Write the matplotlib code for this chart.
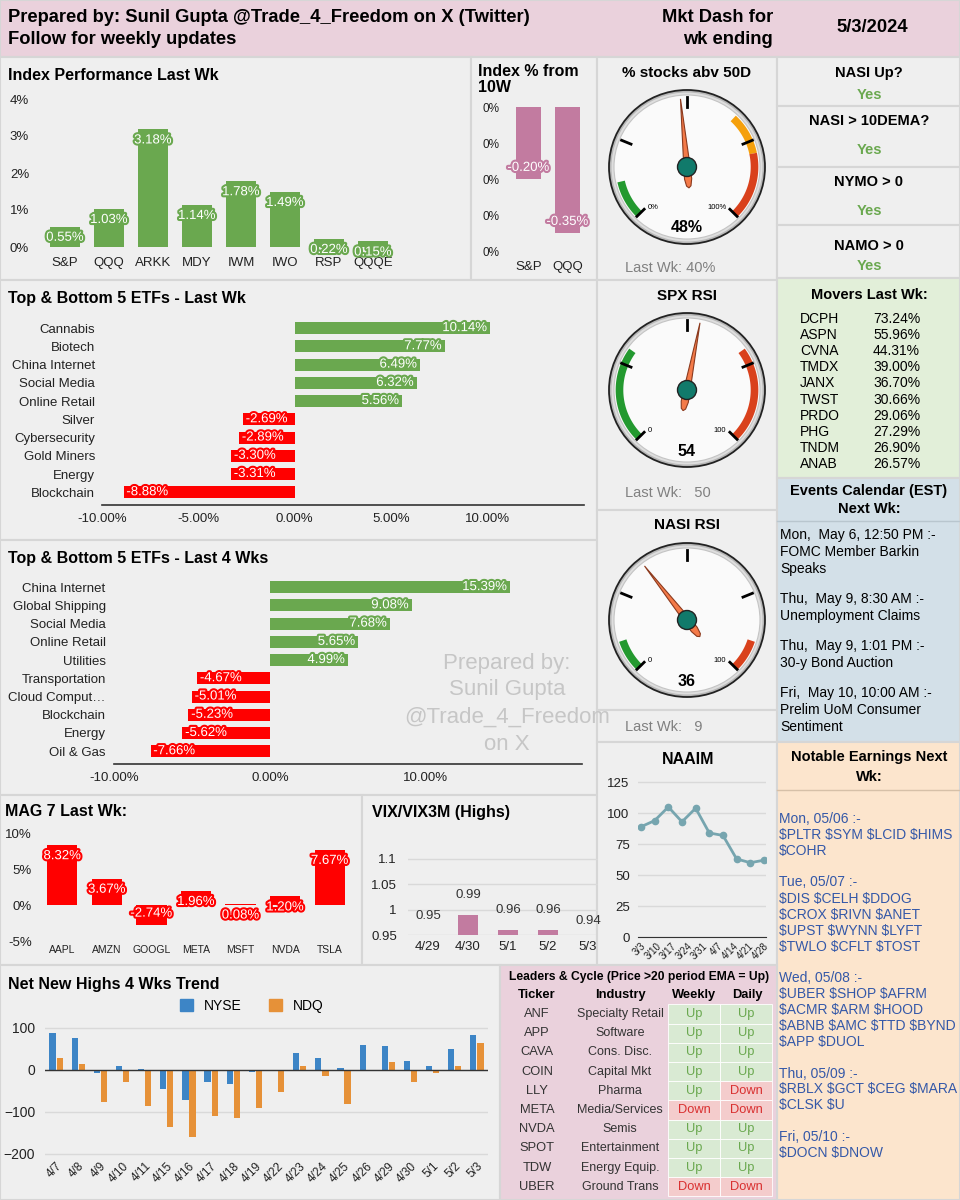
import numpy as np
import matplotlib
matplotlib.use("Agg")
import matplotlib.pyplot as plt
from matplotlib.patches import Rectangle, Ellipse, Polygon, Patch
import matplotlib.patheffects as pe
from matplotlib.ticker import FuncFormatter

plt.rcParams['font.family'] = ['Liberation Sans', 'DejaVu Sans']

# ---------------- data ----------------
report_date = "5/3/2024"

idx_names = ["S&P", "QQQ", "ARKK", "MDY", "IWM", "IWO", "RSP", "QQQE"]
idx_perf = [0.55, 1.03, 3.18, 1.14, 1.78, 1.49, 0.22, 0.15]

idx10_names = ["S&P", "QQQ"]
idx10_vals = [-0.20, -0.35]

etf_wk_names = ["Cannabis", "Biotech", "China Internet", "Social Media", "Online Retail",
                "Silver", "Cybersecurity", "Gold Miners", "Energy", "Blockchain"]
etf_wk_vals = [10.14, 7.77, 6.49, 6.32, 5.56, -2.69, -2.89, -3.30, -3.31, -8.88]

etf_4w_names = ["China Internet", "Global Shipping", "Social Media", "Online Retail", "Utilities",
                "Transportation", "Cloud Comput\u2026", "Blockchain", "Energy", "Oil & Gas"]
etf_4w_vals = [15.39, 9.08, 7.68, 5.65, 4.99, -4.67, -5.01, -5.23, -5.62, -7.66]

mag7_names = ["AAPL", "AMZN", "GOOGL", "META", "MSFT", "NVDA", "TSLA"]
mag7_vals = [8.32, 3.67, -2.74, 1.96, 0.08, 1.20, 7.67]

vix_dates = ["4/29", "4/30", "5/1", "5/2", "5/3"]
vix_vals = [0.95, 0.99, 0.96, 0.96, 0.94]

# the chart shows 10 weekly points but only 9 date labels
naaim_dates = ["3/3", "3/10", "3/17", "3/24", "3/31", "4/7", "4/14", "4/21", "4/28"]
naaim_vals = [89, 94, 105, 93, 104, 84, 82, 63, 60, 62]

nnh_dates = ["4/7", "4/8", "4/9", "4/10", "4/11", "4/15", "4/16", "4/17", "4/18", "4/19",
             "4/22", "4/23", "4/24", "4/25", "4/26", "4/29", "4/30", "5/1", "5/2", "5/3"]
nnh_nyse = [87, 76, -8, 10, 2, -45, -71, -29, -33, -5, 0, 40, 29, 5, 60, 57, 22, 10, 51, 84]
nnh_ndq = [29, 14, -77, -28, -86, -135, -159, -110, -115, -90, -52, 10, -15, -81, -3, 18, -28, -7, 10, 65]

gauge_titles = ["% stocks abv 50D", "SPX RSI", "NASI RSI"]
gauge_vals = [48, 54, 36]
gauge_last = ["Last Wk: 40%", "Last Wk:   50", "Last Wk:   9"]
gauge_units = ["%", "", ""]
gauge_bands = [[(0, 12, "#23992f"), (66, 79, "#f5a00c"), (79, 100, "#d9411c")],
               [(0, 30, "#23992f"), (70, 100, "#d9411c")],
               [(0, 10, "#23992f"), (90, 100, "#d9411c")]]

signal_q = ["NASI Up?", "NASI > 10DEMA?", "NYMO > 0", "NAMO > 0"]
signal_a = ["Yes", "Yes", "Yes", "Yes"]

movers_tickers = ["DCPH", "ASPN", "CVNA", "TMDX", "JANX", "TWST", "PRDO", "PHG", "TNDM", "ANAB"]
movers_pct = ["73.24%", "55.96%", "44.31%", "39.00%", "36.70%", "30.66%", "29.06%", "27.29%", "26.90%", "26.57%"]

events = [["Mon,  May 6, 12:50 PM :-", "FOMC Member Barkin", "Speaks"],
          ["Thu,  May 9, 8:30 AM :-", "Unemployment Claims"],
          ["Thu,  May 9, 1:01 PM :-", "30-y Bond Auction"],
          ["Fri,  May 10, 10:00 AM :-", "Prelim UoM Consumer", "Sentiment"]]

earnings = [["Mon, 05/06 :-", "$PLTR $SYM $LCID $HIMS", "$COHR"],
            ["Tue, 05/07 :-", "$DIS $CELH $DDOG", "$CROX $RIVN $ANET", "$UPST $WYNN $LYFT", "$TWLO $CFLT $TOST"],
            ["Wed, 05/08 :-", "$UBER $SHOP $AFRM", "$ACMR $ARM $HOOD", "$ABNB $AMC $TTD $BYND", "$APP $DUOL"],
            ["Thu, 05/09 :-", "$RBLX $GCT $CEG $MARA", "$CLSK $U"],
            ["Fri, 05/10 :-", "$DOCN $DNOW"]]

lead_tickers = ["ANF", "APP", "CAVA", "COIN", "LLY", "META", "NVDA", "SPOT", "TDW", "UBER"]
lead_industry = ["Specialty Retail", "Software", "Cons. Disc.", "Capital Mkt", "Pharma",
                 "Media/Services", "Semis", "Entertainment", "Energy Equip.", "Ground Trans"]
lead_weekly = ["Up", "Up", "Up", "Up", "Up", "Down", "Up", "Up", "Up", "Down"]
lead_daily = ["Up", "Up", "Up", "Up", "Down", "Down", "Up", "Up", "Up", "Down"]

# ---------------- style ----------------
GRAY = "#efefef"
LINE = "#d6d6d6"
PINK = "#ead1dc"
GREEN = "#6aa84f"
RED = "#ff0000"
MAUVE = "#c27ba0"
W, H = 960, 1200

fig = plt.figure(figsize=(W / 100, H / 100), dpi=100, facecolor="#e4e4e4")
bg = fig.add_axes([0, 0, 1, 1])
bg.set_xlim(0, W)
bg.set_ylim(H, 0)
bg.axis("off")


def panel(x0, y0, x1, y1, fc=GRAY):
    bg.add_patch(Rectangle((x0, y0), x1 - x0, y1 - y0, facecolor=fc, edgecolor=LINE, lw=1.5, zorder=0))


def txt(x, y, s, size=10, weight="normal", color="black", ha="left", **kw):
    bg.text(x, y, s, fontsize=size, fontweight=weight, color=color, ha=ha, va="center",
            parse_math=False, **kw)


def axes_px(x0, y0, x1, y1):
    ax = fig.add_axes([x0 / W, 1 - y1 / H, (x1 - x0) / W, (y1 - y0) / H])
    ax.patch.set_alpha(0)
    for s in ax.spines.values():
        s.set_visible(False)
    ax.tick_params(length=0, labelsize=9.5, colors="#222")
    return ax


def bar_labels(ax, pos, vals, colors, horizontal=False):
    for p, v, col in zip(pos, vals, colors):
        stroke = [pe.withStroke(linewidth=3, foreground=col)]
        if horizontal:
            off, ha = ((-2, 0), "right") if v >= 0 else ((2, 0), "left")
            ax.annotate(f"{v:.2f}%", (v, p), xytext=off, textcoords="offset points", ha=ha, va="center",
                        color="white", fontsize=9.5, path_effects=stroke, annotation_clip=False)
        else:
            off = (0, -8) if v >= 0 else (0, 8)
            ax.annotate(f"{v:.2f}%", (p, v), xytext=off, textcoords="offset points", ha="center", va="center",
                        color="white", fontsize=9.5, path_effects=stroke, annotation_clip=False)


# ---------------- panels ----------------
panel(0, 0, 960, 57, PINK)
panel(0, 57, 471, 280)
panel(471, 57, 597, 280)
panel(597, 57, 777, 280)
for y0, y1 in [(57, 106), (106, 167), (167, 225), (225, 278)]:
    panel(777, y0, 960, y1)
panel(0, 280, 597, 540)
panel(597, 280, 777, 510)
panel(777, 278, 960, 478, "#e2efd9")
panel(0, 540, 597, 795)
panel(597, 510, 777, 710)
panel(597, 710, 777, 742)
panel(777, 478, 960, 742, "#d3e0e8")
bg.plot([777, 960], [521, 521], color="#b9c6ce", lw=1)
panel(0, 795, 362, 965)
panel(362, 795, 597, 965)
panel(597, 742, 777, 965)
panel(777, 742, 960, 1200, "#fce5cd")
bg.plot([777, 960], [790, 790], color="#d6c0a8", lw=1)
panel(0, 965, 500, 1200)
panel(500, 965, 777, 1200, PINK)

# header
hdr_font = ["Liberation Sans Narrow", "Liberation Sans", "DejaVu Sans"]
for x, y, s, ha in [(8, 18, "Prepared by: Sunil Gupta @Trade_4_Freedom on X (Twitter)", "left"),
                    (8, 39, "Follow for weekly updates", "left"),
                    (773, 18, "Mkt Dash for", "right"),
                    (773, 39, "wk ending", "right"),
                    (872, 28, report_date, "center")]:
    bg.text(x, y, s, fontsize=13.2, fontweight="bold", family=hdr_font, va="center", ha=ha)

# titles
TS = 11.5
txt(8, 75, "Index Performance Last Wk", TS, "bold")
txt(478, 71, "Index % from", TS, "bold")
txt(478, 88, "10W", TS, "bold")
txt(8, 299, "Top & Bottom 5 ETFs - Last Wk", TS, "bold")
txt(8, 558, "Top & Bottom 5 ETFs - Last 4 Wks", TS, "bold")
txt(5, 812, "MAG 7 Last Wk:", TS, "bold")
txt(372, 812, "VIX/VIX3M (Highs)", TS, "bold")
txt(688, 760, "NAAIM", TS, "bold", ha="center")
txt(8, 984, "Net New Highs 4 Wks Trend", TS, "bold")

# watermark
for k, line in enumerate(["Prepared by:", "Sunil Gupta", "@Trade_4_Freedom", "on X"]):
    txt(507, 663 + 27 * k, line, 16, color="#c6c6c6", ha="center")

# ---------------- Index performance ----------------
ax = axes_px(43, 99, 395, 247)
x = np.arange(len(idx_names))
ax.bar(x, idx_perf, width=0.66, color=GREEN)
ax.set_xlim(-0.5, len(idx_names) - 0.5)
ax.set_ylim(0, 4)
ax.set_yticks(range(5))
ax.yaxis.set_major_formatter(FuncFormatter(lambda v, p: f"{v:.0f}%"))
ax.set_xticks(x, idx_names)
ax.tick_params(axis="x", pad=7)
ax.tick_params(axis="y", pad=10)
bar_labels(ax, x, idx_perf, [GREEN] * len(x))

# ---------------- Index % from 10W ----------------
ax = axes_px(509, 107, 587, 251)
x = np.arange(len(idx10_names))
ax.bar(x, idx10_vals, width=0.62, color=MAUVE)
ax.set_xlim(-0.5, len(idx10_names) - 0.5)
ax.set_ylim(-0.4, 0)
ax.set_yticks(np.linspace(-0.4, 0, 5))
ax.yaxis.set_major_formatter(FuncFormatter(lambda v, p: f"{abs(round(v)):.0f}%"))
ax.set_xticks(x, idx10_names)
ax.tick_params(axis="y", pad=7, labelsize=8.5)
ax.tick_params(axis="x", pad=7)
bar_labels(ax, x, idx10_vals, [MAUVE] * len(x))


# ---------------- ETF bars ----------------
def etf_chart(box, names, vals, xlim, xticks, ypad):
    ax = axes_px(*box)
    y = np.arange(len(names))
    cols = [GREEN if v >= 0 else RED for v in vals]
    ax.barh(y, vals, height=0.66, color=cols)
    ax.set_ylim(len(names) - 0.3, -0.5)
    ax.set_xlim(*xlim)
    ax.set_xticks(xticks)
    ax.xaxis.set_major_formatter(FuncFormatter(lambda v, p: f"{v:.2f}%"))
    ax.set_yticks(y, names)
    ax.spines["bottom"].set_visible(True)
    ax.spines["bottom"].set_color("#333")
    ax.spines["bottom"].set_linewidth(1.2)
    ax.tick_params(axis="y", pad=ypad)
    ax.tick_params(axis="x", pad=6)
    bar_labels(ax, y, vals, cols, horizontal=True)
    return ax


etf_chart((102, 319, 584, 505), etf_wk_names, etf_wk_vals, (-10, 15), [-10, -5, 0, 5, 10], 5)
etf_chart((114, 578, 582, 764), etf_4w_names, etf_4w_vals, (-10, 20), [-10, 0, 10], 6)

# ---------------- MAG 7 ----------------
ax = axes_px(40, 833, 352, 941)
x = np.arange(len(mag7_names))
ax.bar(x, mag7_vals, width=0.68, color=RED)
ax.set_xlim(-0.5, len(mag7_names) - 0.5)
ax.set_ylim(-5, 10)
ax.set_yticks([-5, 0, 5, 10])
ax.yaxis.set_major_formatter(FuncFormatter(lambda v, p: f"{v:.0f}%"))
ax.set_xticks(x, mag7_names)
ax.tick_params(axis="x", pad=3, labelsize=7.5)
ax.tick_params(axis="y", pad=6)
bar_labels(ax, x, mag7_vals, [RED] * len(x))

# ---------------- VIX / VIX3M ----------------
ax = axes_px(408, 846, 598, 935)
x = np.arange(len(vix_dates))
ax.bar(x, vix_vals, width=0.5, color=MAUVE)
ax.set_xlim(-0.5, len(vix_dates) - 0.75)
ax.set_ylim(0.95, 1.125)
ax.set_yticks([0.95, 1.0, 1.05, 1.1])
ax.yaxis.set_major_formatter(FuncFormatter(lambda v, p: f"{v:g}"))
ax.grid(axis="y", color="#d9d9d9", lw=1)
ax.set_axisbelow(True)
ax.set_xticks(x, vix_dates)
ax.tick_params(axis="x", pad=4)
ax.tick_params(axis="y", pad=8)
for i, v in zip(x, vix_vals):
    ax.annotate(f"{v:.2f}", (i, v), xytext=(0, 14), textcoords="offset points", ha="center",
                va="center", fontsize=9.5, color="#333", annotation_clip=False)

# ---------------- NAAIM ----------------
ax = axes_px(638, 776, 766, 937)
x = np.arange(len(naaim_vals))
ax.plot(x, naaim_vals, color="#76a5af", lw=2, marker="o", ms=4.5)
ax.set_xlim(-0.22, len(naaim_vals) - 0.85)
ax.set_ylim(0, 130)
ax.set_yticks(range(0, 126, 25))
ax.grid(axis="y", color="#d9d9d9", lw=1)
ax.set_axisbelow(True)
ax.spines["bottom"].set_visible(True)
ax.spines["bottom"].set_color("#333")
ax.set_xticks(np.linspace(0, len(naaim_vals) - 1, len(naaim_dates)), naaim_dates,
              rotation=45, ha="right", rotation_mode="anchor")
ax.tick_params(axis="x", labelsize=7, pad=3)
ax.tick_params(axis="y", pad=6)

# ---------------- Net New Highs ----------------
ax = axes_px(45, 1024, 488, 1156)
x = np.arange(len(nnh_dates))
ax.bar(x - 0.16, nnh_nyse, width=0.28, color="#3d85c6", label="NYSE")
ax.bar(x + 0.16, nnh_ndq, width=0.28, color="#e69138", label="NDQ")
ax.axhline(0, color="#333", lw=1)
ax.set_xlim(-0.5, len(nnh_dates) - 0.5)
ax.set_ylim(-205, 109.5)
ax.set_yticks([-200, -100, 0, 100])
ax.grid(axis="y", color="#d9d9d9", lw=1)
ax.set_axisbelow(True)
ax.set_xticks(x, nnh_dates, rotation=45, ha="right", rotation_mode="anchor")
ax.tick_params(axis="x", labelsize=8.5, pad=3)
ax.tick_params(axis="y", pad=7, labelsize=10)
ax.legend(handles=[Patch(color="#3d85c6", label="NYSE"), Patch(color="#e69138", label="NDQ")],
          loc="center", bbox_to_anchor=(252 / W, 1 - 1006 / H), bbox_transform=fig.transFigure,
          ncol=2, frameon=False, handlelength=0.9, handleheight=0.9, columnspacing=2.0, fontsize=10)

# ---------------- gauges ----------------
gauge_cy = [167, 390, 620]
gauge_ty = [73, 296, 525]
gauge_ly = [268, 493, 727]
for g in range(3):
    cx, cy = 687, gauge_cy[g]
    rx, ry = 73, 72
    bg.add_patch(Ellipse((cx, cy), 2 * rx + 10, 2 * ry + 10, facecolor="#b8b8b8", edgecolor="#222", lw=1.3, zorder=2))
    bg.add_patch(Ellipse((cx, cy), 2 * rx + 5, 2 * ry + 5, facecolor="#dedede", edgecolor="none", zorder=2))
    bg.add_patch(Ellipse((cx, cy), 2 * rx, 2 * ry, facecolor="#fafafa", edgecolor="#c4c4c4", lw=0.8, zorder=2))

    def pt(v, f):
        a = np.radians(-135 + 2.7 * np.asarray(v, dtype=float))
        f = np.asarray(f, dtype=float)
        return cx + f * rx * np.sin(a), cy - f * ry * np.cos(a)

    for a0, a1, col in gauge_bands[g]:
        xs, ys = pt(np.linspace(a0, a1, 40), 0.925)
        bg.plot(xs, ys, color=col, lw=5.5, solid_capstyle="butt", zorder=3)
    for v in [0, 25, 50, 75, 100]:
        xs, ys = pt([v, v], [0.83, 0.97])
        bg.plot(xs, ys, color="black", lw=2, zorder=4)
    u = gauge_units[g]
    x0, y0 = pt(0, 0.8)
    x1, y1 = pt(100, 0.8)
    txt(x0 + 2, y0, "0" + u, 5.5, zorder=4)
    txt(x1 - 2, y1, "100" + u, 5.5, ha="right", zorder=4)
    a = np.radians(-135 + 2.7 * gauge_vals[g])
    d = np.array([np.sin(a), -np.cos(a)])
    n = np.array([np.cos(a), np.sin(a)])
    c = np.array([cx, cy])
    tip = c + d * np.array([0.95 * rx, 0.95 * ry])
    needle = [tip, c + n * 3.2, c - d * 12 + n * 3.6, c - d * 19 + n * 2.2, c - d * 21,
              c - d * 19 - n * 2.2, c - d * 12 - n * 3.6, c - n * 3.2]
    bg.add_patch(Polygon(needle, closed=True, facecolor="#f47a48", edgecolor="#8b3a1e", lw=0.8, zorder=5))
    bg.add_patch(Ellipse((cx, cy), 19, 19, facecolor="#117a6b", edgecolor="#222", lw=1, zorder=6))
    txt(cx, cy + 61, f"{gauge_vals[g]}{u}", 11.5, "bold", ha="center", zorder=6)
    txt(cx, gauge_ty[g], gauge_titles[g], 11, "bold", ha="center")
    txt(625, gauge_ly[g], gauge_last[g], 10.5, color="#808080")

# ---------------- signals ----------------
for q, a, qy, ay in zip(signal_q, signal_a, [73, 121, 182, 246], [95, 150, 211, 266]):
    txt(869, qy, q, 10.5, "bold", ha="center")
    txt(869, ay, a, 10.5, "bold", color=GREEN, ha="center")

# ---------------- movers ----------------
txt(869, 295, "Movers Last Wk:", 10.5, "bold", ha="center")
for k, (t, p) in enumerate(zip(movers_tickers, movers_pct)):
    txt(800, 319 + 16.1 * k, t, 10)
    txt(873, 319 + 16.1 * k, p, 10)

# ---------------- events ----------------
txt(869, 491, "Events Calendar (EST)", 10.5, "bold", ha="center")
txt(869, 509, "Next Wk:", 10.5, "bold", ha="center")
yy = 535
for block in events:
    for line in block:
        txt(780, yy, line, 10)
        yy += 17
    yy += 13

# ---------------- earnings ----------------
txt(869, 757, "Notable Earnings Next", 10.5, "bold", ha="center")
txt(869, 777, "Wk:", 10.5, "bold", ha="center")
yy = 819
for block in earnings:
    for line in block:
        txt(779, yy, line, 10, color="#3458a8")
        yy += 16
    yy += 15.5

# ---------------- leaders table ----------------
txt(639, 977, "Leaders & Cycle (Price >20 period EMA = Up)", 8.7, "bold", ha="center")
for cxh, head in zip([537, 620, 694, 747], ["Ticker", "Industry", "Weekly", "Daily"]):
    txt(cxh, 995, head, 9.3, "bold", ha="center")
for k in range(len(lead_tickers)):
    ry_ = 1014 + 19.2 * k
    txt(537, ry_, lead_tickers[k], 9.3, ha="center", color="#333")
    txt(620, ry_, lead_industry[k], 9, ha="center", color="#333")
    for x0c, val in [(668, lead_weekly[k]), (720, lead_daily[k])]:
        up = val == "Up"
        bg.add_patch(Rectangle((x0c, ry_ - 9.6), 52, 19.2, facecolor="#d9ead3" if up else "#f4cccc",
                               edgecolor="white", lw=0.6, zorder=1))
        txt(x0c + 26, ry_, val, 9.3, ha="center", color="#6aa84f" if up else "#d93030", zorder=2)

fig.savefig("out.png", dpi=100, facecolor=fig.get_facecolor())
